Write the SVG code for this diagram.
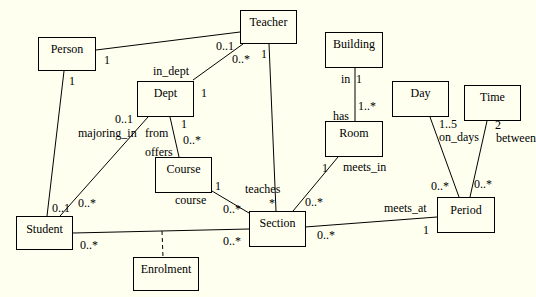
<svg xmlns="http://www.w3.org/2000/svg" width="536" height="297" viewBox="0 0 536 297">
<style>
.box{fill:none;stroke:#000;stroke-width:1}
.ln{stroke:#000;stroke-width:1;fill:none}
.dash{stroke-dasharray:4,3}
text{font-family:"Liberation Serif","Times New Roman",serif;font-size:12px;fill:#000}
.c{text-anchor:middle}
</style>
<rect x="0" y="0" width="536" height="297" fill="#FFFFF0"/>
<g id="connectors">
<line class="ln" x1="96" y1="50" x2="240" y2="32"/>
<line class="ln" x1="64" y1="71" x2="47" y2="216"/>
<line class="ln" x1="243" y1="44" x2="193" y2="80"/>
<line class="ln" x1="269" y1="44" x2="276" y2="211"/>
<line class="ln" x1="148" y1="117" x2="60" y2="216"/>
<line class="ln" x1="170" y1="117" x2="179" y2="157"/>
<line class="ln" x1="212" y1="191" x2="249" y2="213"/>
<line class="ln" x1="355" y1="68" x2="355" y2="121"/>
<line class="ln" x1="338" y1="157" x2="293" y2="211"/>
<line class="ln" x1="430" y1="117" x2="459" y2="197"/>
<line class="ln" x1="487" y1="121" x2="470" y2="197"/>
<line class="ln" x1="305" y1="227" x2="437" y2="217"/>
<line class="ln" x1="73" y1="233" x2="249" y2="229"/>
<line class="ln dash" x1="162" y1="231" x2="163" y2="257"/>
</g>
<g id="labels">
<text x="104" y="64">1</text>
<text x="69" y="85">1</text>
<text x="216" y="50">0..1</text>
<text x="232" y="63">0..*</text>
<text x="153" y="75">in_dept</text>
<text x="201" y="97">1</text>
<text x="261" y="58">1</text>
<text x="115" y="123">0..1</text>
<text x="181" y="128">1</text>
<text x="78" y="137">majoring_in</text>
<text x="145" y="137">from</text>
<text x="183" y="144">0..*</text>
<text x="145" y="156">offers</text>
<text x="215" y="190">1</text>
<text x="175" y="204">course</text>
<text x="245" y="193">teaches</text>
<text x="269" y="207">*</text>
<text x="223" y="213">0..*</text>
<text x="52" y="212">0..1</text>
<text x="78" y="207">0..*</text>
<text x="80" y="249">0..*</text>
<text x="223" y="245">0..*</text>
<text x="305" y="206">0..*</text>
<text x="322" y="172">1</text>
<text x="343" y="171">meets_in</text>
<text x="384" y="212">meets_at</text>
<text x="423" y="234">1</text>
<text x="317" y="239">0..*</text>
<text x="431" y="190">0..*</text>
<text x="474" y="188">0..*</text>
<text x="439" y="128">1..5</text>
<text x="439" y="141">on_days</text>
<text x="495" y="129">2</text>
<text x="496" y="142">between</text>
<text x="341" y="83">in</text>
<text x="356" y="83">1</text>
<text x="358" y="110">1..*</text>
<text x="333" y="120">has</text>
</g>
<g id="Teacher"><rect class="box" x="240.5" y="10.5" width="56" height="33"/><text class="c" x="268.5" y="26">Teacher</text></g>
<g id="Person"><rect class="box" x="38.5" y="37.5" width="57" height="33"/><text class="c" x="67" y="53">Person</text></g>
<g id="Dept"><rect class="box" x="137.5" y="81.5" width="56" height="35"/><text class="c" x="165.5" y="97">Dept</text></g>
<g id="Building"><rect class="box" x="325.5" y="32.5" width="57" height="35"/><text class="c" x="354" y="48">Building</text></g>
<g id="Day"><rect class="box" x="392.5" y="81.5" width="56" height="35"/><text class="c" x="420.5" y="97">Day</text></g>
<g id="Time"><rect class="box" x="464.5" y="85.5" width="56" height="35"/><text class="c" x="492.5" y="101">Time</text></g>
<g id="Room"><rect class="box" x="325.5" y="121.5" width="57" height="35"/><text class="c" x="354" y="137">Room</text></g>
<g id="Course"><rect class="box" x="155.5" y="157.5" width="56" height="35"/><text class="c" x="183.5" y="173">Course</text></g>
<g id="Student"><rect class="box" x="16.5" y="216.5" width="56" height="33"/><text class="c" x="44.5" y="233">Student</text></g>
<g id="Section"><rect class="box" x="249.5" y="211.5" width="56" height="35"/><text class="c" x="277.5" y="227">Section</text></g>
<g id="Period"><rect class="box" x="437.5" y="197.5" width="57" height="35"/><text class="c" x="466" y="214">Period</text></g>
<g id="Enrolment"><rect class="box" x="133.5" y="257.5" width="65" height="33"/><text class="c" x="166" y="273">Enrolment</text></g>
</svg>
